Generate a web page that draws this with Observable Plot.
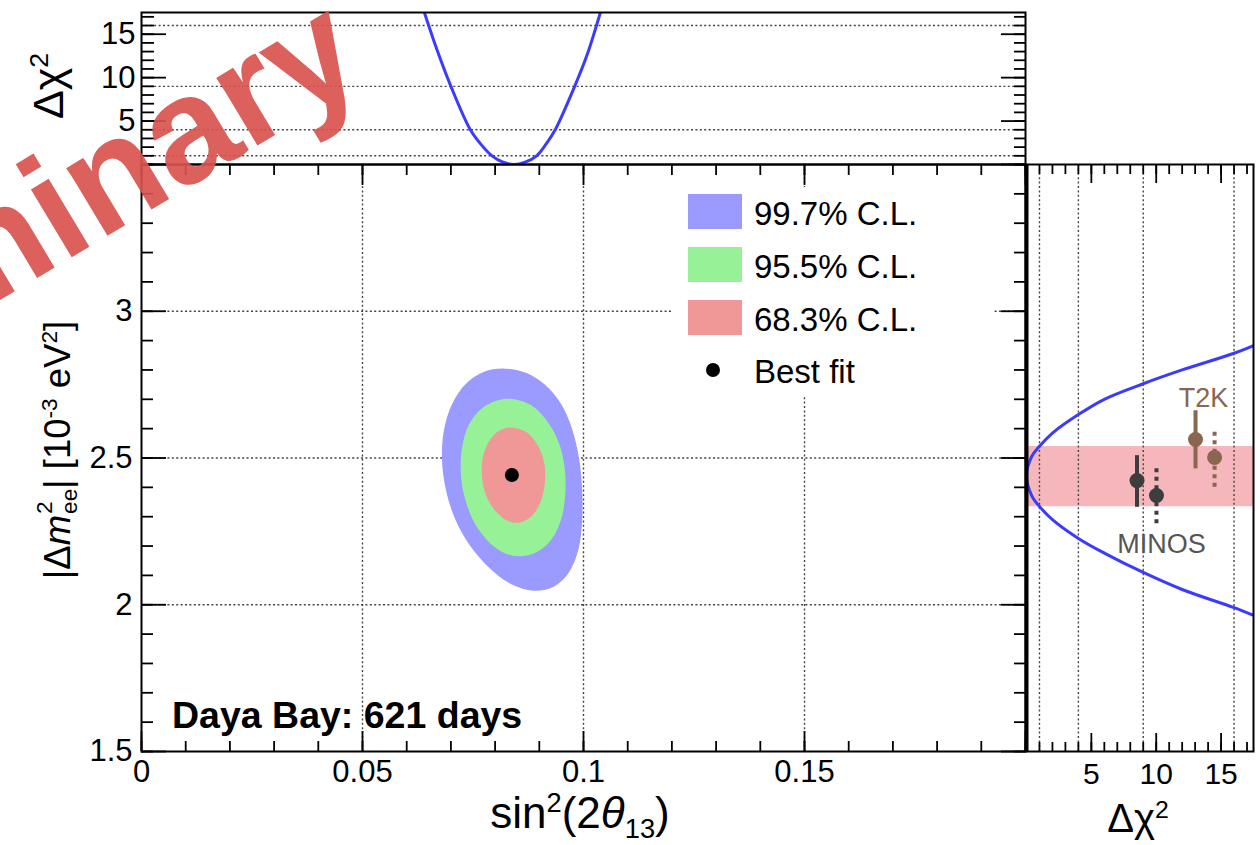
<!DOCTYPE html>
<html>
<head>
<meta charset="utf-8">
<script src="https://cdn.jsdelivr.net/npm/d3@7"></script>
<script src="https://cdn.jsdelivr.net/npm/@observablehq/plot@0.6"></script>
<style>
  body { margin: 0; background: #fff; }
  #wrap { position: relative; width: 1260px; height: 845px; overflow: hidden;
          font-family: "Liberation Sans", Arial, Helvetica, sans-serif; color: #000; background: #fff; }
  .lbl { position: absolute; white-space: nowrap; line-height: 1; }
  .lbl sup, .lbl sub { font-size: 0.62em; line-height: 0; }
  .sw { position: absolute; }
</style>
</head>
<body>
<div id="wrap"></div>
<script>
// ---------------- data ----------------
// Main panel: allowed regions in (sin^2 2θ13, |Δm^2_ee| [1e-3 eV^2])
const cl997X = [0.0818, 0.0868, 0.0913, 0.0949, 0.0974, 0.0990, 0.0997, 0.0997, 0.0988, 0.0965, 0.0929, 0.0886, 0.0838, 0.0789, 0.0743, 0.0709, 0.0689, 0.0680, 0.0684, 0.0703, 0.0734, 0.0775];
const cl997Y = [2.805, 2.791, 2.750, 2.685, 2.600, 2.498, 2.389, 2.287, 2.185, 2.106, 2.059, 2.048, 2.069, 2.123, 2.202, 2.294, 2.389, 2.491, 2.593, 2.685, 2.753, 2.794];
const cl955X = [0.0827, 0.0879, 0.0917, 0.0945, 0.0958, 0.0958, 0.0947, 0.0922, 0.0881, 0.0838, 0.0798, 0.0761, 0.0736, 0.0723, 0.0725, 0.0741, 0.0775];
const cl955Y = [2.702, 2.682, 2.627, 2.549, 2.457, 2.362, 2.280, 2.212, 2.171, 2.168, 2.198, 2.260, 2.341, 2.437, 2.532, 2.614, 2.675];
const cl683X = [0.0836, 0.0872, 0.0897, 0.0911, 0.0913, 0.0904, 0.0884, 0.0856, 0.0827, 0.0800, 0.0779, 0.0770, 0.0773, 0.0789, 0.0809];
const cl683Y = [2.604, 2.587, 2.542, 2.484, 2.423, 2.355, 2.304, 2.280, 2.287, 2.321, 2.375, 2.444, 2.508, 2.563, 2.593];
const bestFitX = [0.0838];
const bestFitY = [2.442];

// Top panel: Δχ² versus sin^2 2θ13
const topS2t  = [0.0638, 0.0670, 0.0700, 0.0744, 0.0770, 0.0793, 0.0818, 0.0843, 0.0868, 0.0894, 0.0916, 0.0936, 0.0980, 0.1008, 0.1040];
const topChi2 = [17.8, 13.0, 9.0, 4.0, 2.2, 1.0, 0.26, 0.0, 0.27, 1.0, 2.4, 4.0, 9.0, 12.6, 17.8];

// Right panel: Δχ² versus |Δm^2_ee|
const rightChi2 = [17.6, 16, 12, 9, 6, 4, 2, 1, 0.4, 0, 0.4, 1, 2, 4, 6, 9, 12, 16, 17.6];
const rightDm2  = [2.885, 2.857, 2.800, 2.753, 2.700, 2.648, 2.585, 2.540, 2.505, 2.440, 2.372, 2.335, 2.290, 2.226, 2.176, 2.110, 2.052, 1.990, 1.962];
const bandLow = [2.334];
const bandHigh = [2.539];

// External measurements in the right panel
const extExp   = ["MINOS", "MINOS", "T2K", "T2K"];
const extDash  = [false, true, false, true];
const extChi2  = [8.52, 10.02, 13.03, 14.50];
const extDm2   = [2.423, 2.372, 2.563, 2.502];
const extLow   = [2.332, 2.276, 2.463, 2.400];
const extHigh  = [2.508, 2.468, 2.661, 2.599];
const expLabels = ["T2K", "MINOS"];
const expLabelChi2 = [13.65, 10.4];
const expLabelDm2 = [2.703, 2.207];

// Ticks
const mainXTicks = [0, 0.05, 0.1, 0.15, 0.2];
const mainXLabels = ["0", "0.05", "0.1", "0.15"];
const mainYTicks = [1.5, 2, 2.5, 3, 3.5];
const mainYLabels = ["1.5", "2", "2.5", "3"];
const chi2Ticks = [5, 10, 15];
const chi2Labels = ["5", "10", "15"];
const chi2Grid = [1, 4, 9, 16];
const mainXMinor = d3.range(0, 0.2001, 0.01);
const mainYMinor = d3.range(1.5, 3.5001, 0.1);
const chi2Minor = d3.range(0, 17.5, 1);

// ---------------- styles ----------------
const W = 1260, H = 845;
const FONT = '"Liberation Sans", Arial, Helvetica, sans-serif';
const C997 = "#9a9aff", C955 = "#97f297", C683 = "#f09797";
const BLUE = "#3b3bff", PINK = "#f5b7bb";
const MINOSC = "#3d3d3d", T2KC = "#8a6650";
const GRID = {stroke: "#444", strokeOpacity: 1, strokeWidth: 1.4, strokeDasharray: "2,2.4"};
const TICK = {strokeWidth: 1.8, fill: "none", label: null};
const wrap = document.getElementById("wrap");

function layer(opts) {
  const svg = Plot.plot({width: W, height: H,
    style: {background: "transparent", fontFamily: FONT, overflow: "visible"}, ...opts});
  svg.style.position = "absolute"; svg.style.left = "0px"; svg.style.top = "0px";
  wrap.appendChild(svg);
  return svg;
}
const lut = (keys, labels) => d => labels[keys.indexOf(d)];
const pts = (xs, ys) => xs.map((x, i) => ({x, y: ys[i]}));

// ---------------- main panel ----------------
layer({
  marginLeft: 141, marginRight: 235, marginTop: 164, marginBottom: 94,
  x: {domain: [0, 0.2], axis: null, label: null},
  y: {domain: [1.5, 3.5], axis: null, label: null},
  marks: [
    Plot.gridX(mainXTicks.slice(1, 4), GRID),
    Plot.gridY(mainYTicks.slice(1, 4), GRID),
    Plot.line(pts(cl997X, cl997Y), {x: "x", y: "y", fill: C997, stroke: "none", curve: "catmull-rom-closed"}),
    Plot.line(pts(cl955X, cl955Y), {x: "x", y: "y", fill: C955, stroke: "none", curve: "catmull-rom-closed"}),
    Plot.line(pts(cl683X, cl683Y), {x: "x", y: "y", fill: C683, stroke: "none", curve: "catmull-rom-closed"}),
    Plot.dot(pts(bestFitX, bestFitY), {x: "x", y: "y", r: 7, fill: "black", stroke: "none"}),
    Plot.axisX(mainXMinor, {anchor: "bottom", tickSize: -10, ...TICK}),
    Plot.axisX(mainXTicks, {anchor: "bottom", tickSize: -20, ...TICK}),
    Plot.axisX(mainXMinor, {anchor: "top", tickSize: -10, ...TICK}),
    Plot.axisX(mainXTicks, {anchor: "top", tickSize: -20, ...TICK}),
    Plot.axisY(mainYMinor, {anchor: "left", tickSize: -12, ...TICK}),
    Plot.axisY(mainYTicks, {anchor: "left", tickSize: -25, ...TICK}),
    Plot.axisY(mainYMinor, {anchor: "right", tickSize: -12, ...TICK}),
    Plot.axisY(mainYTicks, {anchor: "right", tickSize: -25, ...TICK}),
    Plot.axisX(mainXTicks.slice(0, 4), {anchor: "bottom", tickSize: 0, tickPadding: 8, fontSize: 31,
      tickFormat: lut(mainXTicks, mainXLabels), label: null}),
    Plot.axisY(mainYTicks.slice(0, 4), {anchor: "left", tickSize: 0, tickPadding: 9, fontSize: 31,
      tickFormat: lut(mainYTicks, mainYLabels), label: null}),
    Plot.frame({stroke: "black", strokeWidth: 2})
  ]
});

// ---------------- top panel ----------------
layer({
  marginLeft: 141, marginRight: 235, marginTop: 12, marginBottom: 681,
  x: {domain: [0, 0.2], axis: null, label: null},
  y: {domain: [0, 17.5], axis: null, label: null},
  marks: [
    Plot.gridY(chi2Grid, GRID),
    Plot.line(pts(topS2t, topChi2), {x: "x", y: "y", stroke: BLUE, strokeWidth: 3, curve: "catmull-rom", clip: true}),
    Plot.axisY(chi2Minor, {anchor: "left", tickSize: -13, ...TICK}),
    Plot.axisY(chi2Ticks, {anchor: "left", tickSize: -25, ...TICK}),
    Plot.axisY(chi2Minor, {anchor: "right", tickSize: -12, ...TICK}),
    Plot.axisY(chi2Ticks, {anchor: "right", tickSize: -25, ...TICK}),
    Plot.axisY(chi2Ticks, {anchor: "left", tickSize: 0, tickPadding: 6, fontSize: 31,
      tickFormat: lut(chi2Ticks, chi2Labels), label: null}),
    Plot.frame({stroke: "black", strokeWidth: 2})
  ]
});

// ---------------- right panel ----------------
const ext = extExp.map((e, i) => ({exp: e, dash: extDash[i], chi2: extChi2[i], dm2: extDm2[i], lo: extLow[i], hi: extHigh[i]}));
const sel = (e, d) => ext.filter(p => p.exp === e && p.dash === d);
layer({
  marginLeft: 1026, marginRight: 7, marginTop: 164, marginBottom: 94,
  x: {domain: [0, 17.5], axis: null, label: null},
  y: {domain: [1.5, 3.5], axis: null, label: null},
  marks: [
    Plot.rect([{x1: 0, x2: 17.5, y1: bandLow[0], y2: bandHigh[0]}], {x1: "x1", x2: "x2", y1: "y1", y2: "y2", fill: PINK}),
    Plot.gridX(chi2Grid, GRID),
    Plot.line(pts(rightChi2, rightDm2), {x: "x", y: "y", stroke: BLUE, strokeWidth: 3, curve: "catmull-rom", clip: true}),
    Plot.ruleX(sel("MINOS", false), {x: "chi2", y1: "lo", y2: "hi", stroke: MINOSC, strokeWidth: 4}),
    Plot.ruleX(sel("MINOS", true), {x: "chi2", y1: "lo", y2: "hi", stroke: MINOSC, strokeWidth: 4, strokeDasharray: "4,4.5"}),
    Plot.ruleX(sel("T2K", false), {x: "chi2", y1: "lo", y2: "hi", stroke: T2KC, strokeWidth: 4}),
    Plot.ruleX(sel("T2K", true), {x: "chi2", y1: "lo", y2: "hi", stroke: T2KC, strokeWidth: 4, strokeDasharray: "4,4.5"}),
    Plot.dot(ext.filter(p => p.exp === "MINOS"), {x: "chi2", y: "dm2", r: 7.5, fill: MINOSC, stroke: "none"}),
    Plot.dot(ext.filter(p => p.exp === "T2K"), {x: "chi2", y: "dm2", r: 7.5, fill: T2KC, stroke: "none"}),
    Plot.text([0], {x: expLabelChi2[0], y: expLabelDm2[0], text: () => expLabels[0], fill: T2KC, fontSize: 27, textAnchor: "middle", lineAnchor: "middle", fontFamily: FONT}),
    Plot.text([0], {x: expLabelChi2[1], y: expLabelDm2[1], text: () => expLabels[1], fill: "#555", fontSize: 27, textAnchor: "middle", lineAnchor: "middle", fontFamily: FONT}),
    Plot.axisX(chi2Minor, {anchor: "bottom", tickSize: -9, ...TICK}),
    Plot.axisX(chi2Ticks, {anchor: "bottom", tickSize: -18, ...TICK}),
    Plot.axisX(chi2Minor, {anchor: "top", tickSize: -9, ...TICK}),
    Plot.axisX(chi2Ticks, {anchor: "top", tickSize: -18, ...TICK}),
    Plot.axisX(chi2Ticks, {anchor: "bottom", tickSize: 0, tickPadding: 11, fontSize: 30,
      tickFormat: lut(chi2Ticks, chi2Labels), label: null}),
    Plot.frame({stroke: "black", strokeWidth: 2}),
    Plot.ruleX([0], {stroke: "black", strokeWidth: 4})
  ]
});

// ---------------- HTML texts ----------------
function html(content, {x, base, fs, bold = false, anchor = "start", rot = false, color = "#000"}) {
  const d = document.createElement("div");
  d.className = "lbl";
  d.innerHTML = content;
  d.style.fontSize = fs + "px";
  d.style.color = color;
  if (bold) d.style.fontWeight = "bold";
  if (!rot) {
    d.style.top = (base - 0.8465 * fs) + "px";
    d.style.left = x + "px";
    if (anchor === "middle") d.style.transform = "translateX(-50%)";
  } else {
    // rotated -90deg: x is the baseline position, base is the centre along the text
    d.style.left = (x - 0.8465 * fs) + "px";
    d.style.top = base + "px";
    d.style.transformOrigin = "0 0";
    d.style.transform = "rotate(-90deg) translateX(-50%)";
  }
  wrap.appendChild(d);
  return d;
}

// watermark (drawn first among overlays)
const wm = d3.select(wrap).append("svg")
  .attr("width", W).attr("height", H)
  .style("position", "absolute").style("left", "0px").style("top", "0px");
const wx = 370, wy = 78;
wm.append("text")
  .attr("x", wx).attr("y", wy)
  .attr("text-anchor", "end")
  .attr("transform", `rotate(-31 ${wx} ${wy})`)
  .attr("font-family", FONT).attr("font-weight", "bold").attr("font-size", 150)
  .attr("fill", "#d9534d").attr("fill-opacity", 0.92)
  .text("Preliminary");

// legend (white box hides grid lines)
const lg = document.createElement("div");
lg.style.cssText = "position:absolute;left:673px;top:187px;width:320px;height:208px;background:#fff;";
wrap.appendChild(lg);
const legendNames = ["99.7% C.L.", "95.5% C.L.", "68.3% C.L."];
const legendColors = [C997, C955, C683];
const swTop = [194, 247, 300];
legendNames.forEach((n, i) => {
  const s = document.createElement("div");
  s.className = "sw";
  s.style.cssText = `left:688px;top:${swTop[i]}px;width:54px;height:35px;background:${legendColors[i]};`;
  wrap.appendChild(s);
  html(n, {x: 754, base: swTop[i] + 31, fs: 33});
});
const bd = document.createElement("div");
bd.className = "sw";
bd.style.cssText = "left:706px;top:363px;width:14px;height:14px;border-radius:50%;background:#000;";
wrap.appendChild(bd);
html("Best fit", {x: 754, base: 383, fs: 33});

html("Daya Bay: 621 days", {x: 172, base: 729, fs: 37.5, bold: true});

// axis titles
html('sin<sup>2</sup>(2<i>θ</i><sub>13</sub>)', {x: 580, base: 828, fs: 44, anchor: "middle"});
html('Δχ<sup>2</sup>', {x: 1138, base: 832, fs: 40, anchor: "middle"});
html('Δχ<sup>2</sup>', {x: 63, base: 86, fs: 43, rot: true});
html('|Δ<i>m</i><span style="position:relative;display:inline-block;width:26px;height:0;"><span style="position:absolute;left:1px;top:-36px;font-size:0.62em;">2</span><span style="position:absolute;left:1px;top:-11px;font-size:0.62em;">ee</span></span>| [10<sup>-3</sup> eV<sup>2</sup>]',
     {x: 71, base: 450, fs: 36.5, rot: true});
</script>
</body>
</html>
